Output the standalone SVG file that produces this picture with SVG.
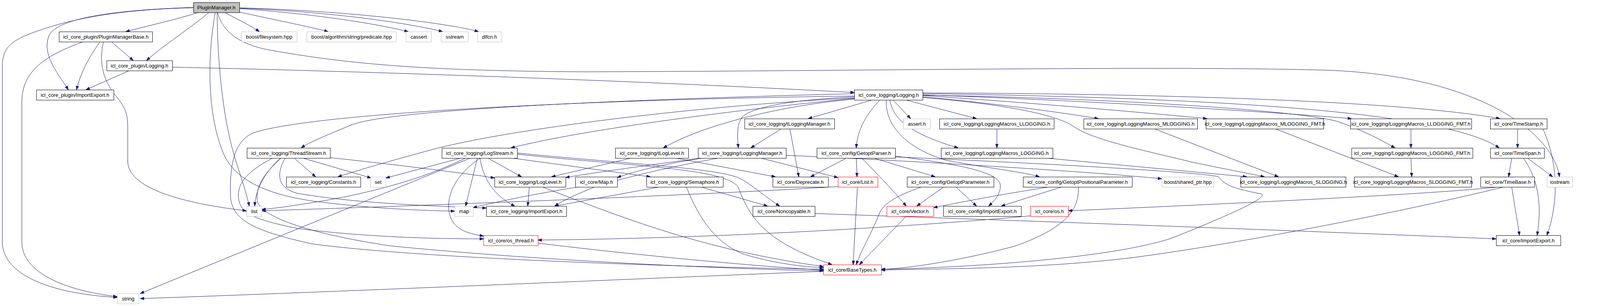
<svg xmlns="http://www.w3.org/2000/svg" width="4177" height="784" viewBox="0 0 4177 784">
<style>
rect{fill:#fff;stroke:#000;stroke-width:1}
.x rect{stroke:#bfbfbf}
.r rect{stroke:#ff0000}
.g rect{fill:#bfbfbf}
text{font-family:"Liberation Sans",Arial,Helvetica,sans-serif;font-size:13px;text-anchor:middle;fill:#000}
#edges path{fill:none;stroke:#191970;stroke-width:1;marker-end:url(#a)}
</style>
<defs>
<marker id="a" markerUnits="userSpaceOnUse" markerWidth="11" markerHeight="8" refX="10" refY="4" orient="auto">
<path d="M0,0.5 L10,4 L0,7.5 z" fill="#191970" stroke="#191970" stroke-width="1"/>
</marker>
</defs>
<rect x="0" y="0" width="4177" height="784" style="fill:#fff;stroke:none"/>
<g id="edges">
<path d="M508,32 C450,50 380,66 322,81"/>
<path d="M535,32 C490,70 420,115 375,155"/>
<path d="M495,19 C300,25 150,45 126,90 C105,140 150,190 175,230"/>
<path d="M495,20 C300,24 180,50 100,78 C30,102 6,120 6,170 L6,620 C6,700 120,752 300,762"/>
<path d="M216,106 C120,140 56,180 56,260 L56,620 C56,700 170,745 300,760"/>
<path d="M575,32 C610,50 640,65 664,81"/>
<path d="M613,31 C700,50 790,68 840,81"/>
<path d="M613,22 C800,35 960,60 1045,81"/>
<path d="M613,21 C850,30 1050,60 1133,81"/>
<path d="M613,20 C900,28 1150,60 1225,81"/>
<path d="M557,32 C570,80 610,115 700,130 C900,165 1100,182 1500,184 C2200,182 3000,168 3400,180 C3800,195 3980,350 3992,453"/>
<path d="M556,32 C556,150 570,300 600,400 C615,450 630,490 638,528"/>
<path d="M551,32 C530,150 530,300 575,400 C610,470 700,500 800,515 C950,535 1100,540 1164,541"/>
<path d="M284,106 L341,155"/>
<path d="M257,106 C225,150 205,190 196,230"/>
<path d="M265,106 C255,150 257,200 300,250 C325,280 327,300 327,330 L327,413 C327,490 500,525 631,540"/>
<path d="M331,181 L220,230"/>
<path d="M441,172 C800,180 1500,200 2187,237"/>
<path d="M2233,256 L2069,304"/>
<path d="M2187,248 C2050,255 1930,270 1900,300 C1885,320 1888,350 1890,379"/>
<path d="M2253,256 C2220,290 2195,330 2192,379"/>
<path d="M2286,256 L2331,304"/>
<path d="M2318,256 L2500,304"/>
<path d="M2362,248 C2500,260 2700,285 2812,304"/>
<path d="M2362,245 C2600,260 2950,290 3090,304"/>
<path d="M2362,243 C2800,258 3300,290 3460,304"/>
<path d="M2362,238 C3000,240 3600,260 3840,304"/>
<path d="M2362,240 C3100,250 3700,285 3838,379"/>
<path d="M2278,256 C2285,300 2320,340 2453,379"/>
<path d="M2362,244 C2800,250 3300,280 3420,310 C3480,330 3530,355 3571,379"/>
<path d="M2362,250 C2550,265 2700,290 2750,325 C2800,360 2950,390 3050,415 C3130,432 3200,445 3237,453"/>
<path d="M2269,256 C2265,320 2320,380 2420,410 C2520,430 2620,440 2661,453"/>
<path d="M2187,240 C1600,255 1000,280 900,320 C840,345 790,365 771,379"/>
<path d="M2187,252 C1900,280 1500,330 1308,379"/>
<path d="M2187,254 C2000,270 1800,320 1698,379"/>
<path d="M2187,251 C1800,270 1300,330 1100,385 C1000,412 920,435 865,453"/>
<path d="M2187,246 C1500,255 800,290 650,340 C600,360 588,420 590,500 C592,560 640,590 800,625 C1100,665 1800,685 2108,690"/>
<path d="M698,405 C650,430 610,460 610,500 C612,545 640,560 760,585 C950,610 1150,612 1238,612"/>
<path d="M720,405 C680,440 650,480 660,520 C680,560 800,600 1000,630 C1400,670 1900,690 2108,694"/>
<path d="M718,405 C680,440 655,480 652,528"/>
<path d="M753,405 L808,453"/>
<path d="M775,405 L950,456"/>
<path d="M845,404 C1000,420 1200,445 1266,456"/>
<path d="M730,405 C710,440 705,480 760,495 C900,520 1100,528 1245,533"/>
<path d="M1180,405 L988,456"/>
<path d="M1192,405 C1100,450 1000,480 880,505 C800,520 720,532 670,537"/>
<path d="M1204,405 L359,752"/>
<path d="M1222,405 L1192,528"/>
<path d="M1230,405 C1160,450 1130,520 1160,570 C1180,595 1210,600 1238,605"/>
<path d="M1249,405 L1335,453"/>
<path d="M1229,405 C1235,450 1260,500 1318,528"/>
<path d="M1310,405 L1665,453"/>
<path d="M1324,392 C1600,420 1850,430 1900,460 C1940,485 1960,505 1996,528"/>
<path d="M1324,395 C1600,425 1860,430 1890,480 C1920,560 1960,620 2130,678"/>
<path d="M1616,405 L1412,453"/>
<path d="M1730,405 L1985,453"/>
<path d="M1840,405 C1700,430 1580,460 1520,480 C1470,500 1440,515 1420,528"/>
<path d="M1800,405 C1700,420 1620,440 1580,455"/>
<path d="M1947,405 L2145,455"/>
<path d="M1800,404 C1650,425 1500,445 1448,455"/>
<path d="M2012,398 C2300,410 2800,440 2974,458"/>
<path d="M2000,330 L1922,379"/>
<path d="M2022,330 L2045,453"/>
<path d="M2167,405 L2075,453"/>
<path d="M2192,405 L2194,453"/>
<path d="M2206,405 C2240,440 2280,480 2320,528"/>
<path d="M2237,405 L2394,453"/>
<path d="M2292,400 C2450,420 2550,440 2560,470 C2565,495 2545,515 2531,528"/>
<path d="M2292,402 C2700,420 3050,440 3118,452 C3135,470 3140,480 3230,497 C3240,505 3200,530 3000,610 C2850,660 2500,685 2256,690"/>
<path d="M2416,479 L2347,528"/>
<path d="M2447,479 L2500,528"/>
<path d="M2359,479 C2300,500 2260,520 2250,550 C2230,600 2205,640 2192,678"/>
<path d="M2686,479 C2550,500 2450,520 2390,532"/>
<path d="M2718,479 L2563,528"/>
<path d="M2761,479 C2762,530 2740,580 2600,630 C2450,670 2320,688 2256,690"/>
<path d="M2320,554 L2200,678"/>
<path d="M2195,479 L2184,678"/>
<path d="M2145,478 C1800,500 1000,530 670,540"/>
<path d="M1480,479 C1350,500 1260,520 1211,532"/>
<path d="M1355,479 L1351,528"/>
<path d="M1388,479 C1600,560 1800,640 2108,683"/>
<path d="M1688,479 L1420,528"/>
<path d="M1794,479 L1965,528"/>
<path d="M1757,479 C1790,560 1830,620 1900,650 C1980,675 2060,684 2108,686"/>
<path d="M1377,623 C1600,650 1900,680 2108,692"/>
<path d="M2638,553 C2400,575 1900,610 1377,615"/>
<path d="M2086,547 C2600,565 3300,590 3830,612"/>
<path d="M3835,479 C3700,495 3200,520 2735,540"/>
<path d="M3850,479 C3600,540 3200,620 2900,660 C2650,690 2400,688 2256,692"/>
<path d="M3870,479 C3878,530 3885,570 3890,603"/>
<path d="M3885,330 L3885,379"/>
<path d="M3950,330 C3990,420 3990,520 3960,603"/>
<path d="M3870,405 L3862,453"/>
<path d="M3910,405 L3975,453"/>
<path d="M3900,405 C3945,470 3945,540 3935,603"/>
<path d="M2552,330 L2552,379"/>
<path d="M2955,330 L3273,453"/>
<path d="M3265,330 L3580,453"/>
<path d="M3612,330 L3612,379"/>
<path d="M3612,405 L3614,453"/>
<path d="M2677,405 L3192,453"/>
<path d="M2108,695 C1500,720 800,750 359,765"/>
</g>
<g id="n_PM" class="g"><rect x="495.5" y="6.5" width="118" height="26"/><text x="554" y="24">PluginManager.h</text></g>
<g id="n_PMB"><rect x="151.5" y="81.5" width="239" height="26"/><text x="271" y="99">icl_core_plugin/PluginManagerBase.h</text></g>
<g id="n_bfs" class="x"><rect x="618.5" y="81.5" width="142" height="26"/><text x="689" y="99">boost/filesystem.hpp</text></g>
<g id="n_pred" class="x"><rect x="785.5" y="81.5" width="229" height="26"/><text x="900" y="99">boost/algorithm/string/predicate.hpp</text></g>
<g id="n_cassert" class="x"><rect x="1039.5" y="81.5" width="65" height="26"/><text x="1072" y="99">cassert</text></g>
<g id="n_sstream" class="x"><rect x="1129.5" y="81.5" width="69" height="26"/><text x="1164" y="99">sstream</text></g>
<g id="n_dlfcn" class="x"><rect x="1222.5" y="81.5" width="62" height="26"/><text x="1253" y="99">dlfcn.h</text></g>
<g id="n_plog"><rect x="273.5" y="155.5" width="168" height="26"/><text x="357" y="173">icl_core_plugin/Logging.h</text></g>
<g id="n_pie"><rect x="93.5" y="230.5" width="198" height="26"/><text x="192" y="248">icl_core_plugin/ImportExport.h</text></g>
<g id="n_LL"><rect x="2187.5" y="230.5" width="175" height="26"/><text x="2275" y="248">icl_core_logging/Logging.h</text></g>
<g id="n_tLM"><rect x="1906.5" y="304.5" width="230" height="26"/><text x="2021" y="322">icl_core_logging/tLoggingManager.h</text></g>
<g id="n_assert" class="x"><rect x="2312.5" y="304.5" width="69" height="26"/><text x="2347" y="322">assert.h</text></g>
<g id="n_LLOG"><rect x="2405.5" y="304.5" width="293" height="26"/><text x="2552" y="322">icl_core_logging/LoggingMacros_LLOGGING.h</text></g>
<g id="n_MLOG"><rect x="2774.5" y="304.5" width="291" height="26"/><text x="2920" y="322">icl_core_logging/LoggingMacros_MLOGGING.h</text></g>
<g id="n_MLOGF"><rect x="3087.5" y="304.5" width="301" height="26"/><text x="3238" y="322">icl_core_logging/LoggingMacros_MLOGGING_FMT.h</text></g>
<g id="n_LLOGF"><rect x="3457.5" y="304.5" width="310" height="26"/><text x="3612" y="322">icl_core_logging/LoggingMacros_LLOGGING_FMT.h</text></g>
<g id="n_TStamp"><rect x="3815.5" y="304.5" width="145" height="26"/><text x="3888" y="322">icl_core/TimeStamp.h</text></g>
<g id="n_TS"><rect x="632.5" y="379.5" width="213" height="26"/><text x="739" y="397">icl_core_logging/ThreadStream.h</text></g>
<g id="n_LS"><rect x="1131.5" y="379.5" width="193" height="26"/><text x="1228" y="397">icl_core_logging/LogStream.h</text></g>
<g id="n_tLL"><rect x="1575.5" y="379.5" width="187" height="26"/><text x="1669" y="397">icl_core_logging/tLogLevel.h</text></g>
<g id="n_LM"><rect x="1787.5" y="379.5" width="225" height="26"/><text x="1900" y="397">icl_core_logging/LoggingManager.h</text></g>
<g id="n_GP"><rect x="2091.5" y="379.5" width="201" height="26"/><text x="2192" y="397">icl_core_config/GetoptParser.h</text></g>
<g id="n_LOG"><rect x="2409.5" y="379.5" width="286" height="26"/><text x="2552" y="397">icl_core_logging/LoggingMacros_LOGGING.h</text></g>
<g id="n_LOGF"><rect x="3460.5" y="379.5" width="310" height="26"/><text x="3615" y="397">icl_core_logging/LoggingMacros_LOGGING_FMT.h</text></g>
<g id="n_TSpan"><rect x="3815.5" y="379.5" width="138" height="26"/><text x="3885" y="397">icl_core/TimeSpan.h</text></g>
<g id="n_const"><rect x="733.5" y="453.5" width="190" height="26"/><text x="828" y="471">icl_core_logging/Constants.h</text></g>
<g id="n_set" class="x"><rect x="948.5" y="453.5" width="39" height="26"/><text x="968" y="471">set</text></g>
<g id="n_LLv"><rect x="1266.5" y="453.5" width="182" height="26"/><text x="1357" y="471">icl_core_logging/LogLevel.h</text></g>
<g id="n_Map"><rect x="1473.5" y="453.5" width="107" height="26"/><text x="1527" y="471">icl_core/Map.h</text></g>
<g id="n_Sem"><rect x="1655.5" y="453.5" width="196" height="26"/><text x="1753" y="471">icl_core_logging/Semaphore.h</text></g>
<g id="n_Dep"><rect x="1978.5" y="453.5" width="142" height="26"/><text x="2049" y="471">icl_core/Deprecate.h</text></g>
<g id="n_List" class="r"><rect x="2145.5" y="453.5" width="102" height="26"/><text x="2196" y="471">icl_core/List.h</text></g>
<g id="n_GPar"><rect x="2322.5" y="453.5" width="222" height="26"/><text x="2433" y="471">icl_core_config/GetoptParameter.h</text></g>
<g id="n_GPP"><rect x="2619.5" y="453.5" width="279" height="26"/><text x="2759" y="471">icl_core_config/GetoptPositionalParameter.h</text></g>
<g id="n_bsp" class="x"><rect x="2974.5" y="453.5" width="133" height="26"/><text x="3041" y="471">boost/shared_ptr.hpp</text></g>
<g id="n_SLOG"><rect x="3176.5" y="453.5" width="269" height="26"/><text x="3311" y="471">icl_core_logging/LoggingMacros_SLOGGING.h</text></g>
<g id="n_SLOGF"><rect x="3467.5" y="453.5" width="300" height="26"/><text x="3617" y="471">icl_core_logging/LoggingMacros_SLOGGING_FMT.h</text></g>
<g id="n_TBase"><rect x="3790.5" y="453.5" width="138" height="26"/><text x="3860" y="471">icl_core/TimeBase.h</text></g>
<g id="n_iostream" class="x"><rect x="3960.5" y="453.5" width="65" height="26"/><text x="3993" y="471">iostream</text></g>
<g id="n_list" class="x"><rect x="631.5" y="528.5" width="39" height="26"/><text x="651" y="546">list</text></g>
<g id="n_map" class="x"><rect x="1164.5" y="528.5" width="47" height="26"/><text x="1188" y="546">map</text></g>
<g id="n_lie"><rect x="1245.5" y="528.5" width="205" height="26"/><text x="1348" y="546">icl_core_logging/ImportExport.h</text></g>
<g id="n_Nonc"><rect x="1927.5" y="528.5" width="159" height="26"/><text x="2007" y="546">icl_core/Noncopyable.h</text></g>
<g id="n_Vec" class="r"><rect x="2270.5" y="528.5" width="120" height="26"/><text x="2330" y="546">icl_core/Vector.h</text></g>
<g id="n_cie"><rect x="2415.5" y="528.5" width="199" height="26"/><text x="2515" y="546">icl_core_config/ImportExport.h</text></g>
<g id="n_os" class="r"><rect x="2638.5" y="528.5" width="97" height="26"/><text x="2687" y="546">icl_core/os.h</text></g>
<g id="n_osth" class="r"><rect x="1238.5" y="603.5" width="139" height="26"/><text x="1308" y="621">icl_core/os_thread.h</text></g>
<g id="n_coreie"><rect x="3830.5" y="603.5" width="165" height="26"/><text x="3913" y="621">icl_core/ImportExport.h</text></g>
<g id="n_BT" class="r"><rect x="2108.5" y="678.5" width="148" height="26"/><text x="2182" y="696">icl_core/BaseTypes.h</text></g>
<g id="n_string" class="x"><rect x="300.5" y="752.5" width="55" height="26"/><text x="328" y="770">string</text></g>
</svg>
